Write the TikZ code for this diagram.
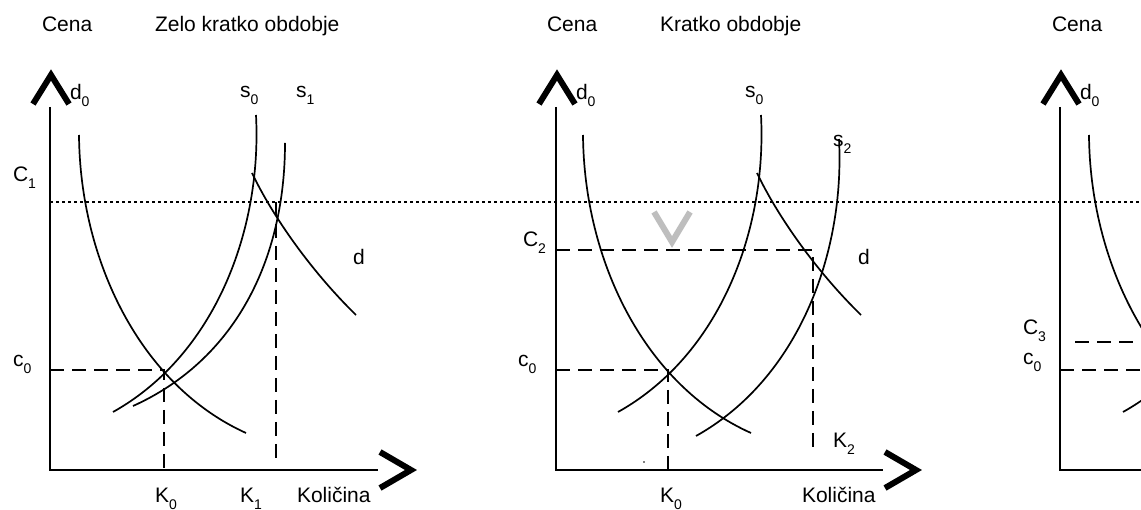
\documentclass[tikz,border=0pt]{standalone}
\usepackage{fontspec}
\setmainfont{Liberation Sans}
\usetikzlibrary{positioning}
\definecolor{HintGray}{RGB}{190,190,190}
\newcommand{\lowsub}[1]{\raisebox{-7pt}{\fontsize{14}{14}\selectfont #1}}

\begin{document}
\begin{tikzpicture}[
  x=1pt, y=-1pt,
  font=\fontsize{21}{24}\selectfont,
  lbl/.style={anchor=base west, inner sep=0pt, outer sep=0pt},
  axis/.style={line width=2.2pt},
  tipmark/.style={line width=6pt, line join=miter},
  curve/.style={line width=1.7pt},
  guide/.style={line width=2pt, dash pattern=on 14pt off 8pt},
  level/.style={line width=2pt, dash pattern=on 3pt off 3pt}
]

  \useasboundingbox (0,0) rectangle (1141,510);
  \clip (0,0) rectangle (1141,510);
  \fill[white] (0,0) rectangle (1141,510);

  % price level C1, across all panels
  \coordinate (LevelL) at (50,202);
  \coordinate (LevelR) at (1141,202);
  \draw[level] (LevelL) -- (LevelR);

  % very short run
  \coordinate (YTopA) at (50,107);
  \coordinate (OrigA) at (50,470);
  \coordinate (XEndA) at (378,470);
  \draw[axis] (YTopA) -- (OrigA) -- (XEndA);
  \draw[tipmark] (33,104) -- (51,75) -- (69,104);
  \draw[tipmark] (380,452) -- (411,470) -- (380,488);

  \draw[curve] (79,135) .. controls (80,260) and (140,385) .. (246,433);
  \draw[curve] (256,115) .. controls (262,230) and (215,355) .. (113,412);
  \draw[curve] (285,143) .. controls (285,260) and (235,360) .. (133,406);
  \draw[curve] (252,173) .. controls (272,215) and (310,270) .. (356,315);

  \coordinate (EqA) at (164,370);
  \draw[guide] (50,370) -- (EqA) -- (164,470);
  \draw[guide] (276,202) -- (276,462);

  \node[lbl] (cenaA)  at (42,32)   {Cena};
  \node[lbl] (titleA) at (155,32)  {Zelo kratko obdobje};
  \node[lbl] (dzeroA) at (70,100)  {d\lowsub{0}};
  \node[lbl] (szeroA) at (240,98)  {s\lowsub{0}};
  \node[lbl] (soneA)  at (296,98)  {s\lowsub{1}};
  \node[lbl] (conebA) at (13,182)  {C\lowsub{1}};
  \node[lbl] (czeroA) at (13,367)  {c\lowsub{0}};
  \node[lbl] (kzeroA) at (155,502) {K\lowsub{0}};
  \node[lbl] (koneA)  at (240,502) {K\lowsub{1}};
  \node[lbl] (qtyA)   at (297,502) {Količina};
  \node[lbl] (dA)     at (353,265) {d};

  % short run
  \begin{scope}[shift={(505,0)}]
    \coordinate (YTopB) at (51,107);
    \coordinate (OrigB) at (51,470);
    \coordinate (XEndB) at (378,470);
    \draw[axis] (YTopB) -- (OrigB) -- (XEndB);
    \draw[tipmark] (34,104) -- (52,75) -- (70,104);
    \draw[tipmark] (380,452) -- (411,470) -- (380,488);
    \draw[tipmark, HintGray] (149,212) -- (167,242) -- (185,212);

    \draw[curve] (78,135) .. controls (79,260) and (139,385) .. (246,433);
    \draw[curve] (256,115) .. controls (262,230) and (215,355) .. (113,412);
    \draw[curve] (334,139) .. controls (340,254) and (293,379) .. (191,436);
    \draw[curve] (252,173) .. controls (272,215) and (310,270) .. (356,315);

    \coordinate (EqB) at (163,370);
    \draw[guide] (51,370) -- (EqB) -- (163,470);
    \coordinate (CornerB) at (308,250);
    \draw[guide] (51,250) -- (CornerB) -- (308,452);
    \fill (139,462) circle (0.8);

    \node[lbl] (cenaB)  at (42,32)   {Cena};
    \node[lbl] (titleB) at (155,32)  {Kratko obdobje};
    \node[lbl] (dzeroB) at (71,100)  {d\lowsub{0}};
    \node[lbl] (szeroB) at (240,98)  {s\lowsub{0}};
    \node[lbl] (stwoB)  at (328,147) {s\lowsub{2}};
    \node[lbl] (ctwoB)  at (18,247)  {C\lowsub{2}};
    \node[lbl] (czeroB) at (13,367)  {c\lowsub{0}};
    \node[lbl] (kzeroB) at (155,502) {K\lowsub{0}};
    \node[lbl] (ktwoB)  at (328,448) {K\lowsub{2}};
    \node[lbl] (qtyB)   at (297,502) {Količina};
    \node[lbl] (dB)     at (353,265) {d};
  \end{scope}

  % long run, cut at the right edge
  \begin{scope}[shift={(1010,0)}]
    \coordinate (YTopC) at (50,107);
    \coordinate (OrigC) at (50,470);
    \coordinate (XEndC) at (378,470);
    \draw[axis] (YTopC) -- (OrigC) -- (XEndC);
    \draw[tipmark] (33,104) -- (51,75) -- (69,104);

    \draw[curve] (79,135) .. controls (80,260) and (140,385) .. (246,433);
    \draw[curve] (256,115) .. controls (262,230) and (215,355) .. (113,412);

    \draw[guide] (65,342) -- (200,342);
    \draw[guide] (50,370) -- (200,370);

    \node[lbl] (cenaC)  at (42,32)   {Cena};
    \node[lbl] (dzeroC) at (70,100)  {d\lowsub{0}};
    \node[lbl] (cthreeC) at (13,335) {C\lowsub{3}};
    \node[lbl] (czeroC) at (13,365)  {c\lowsub{0}};
  \end{scope}

\end{tikzpicture}
\end{document}
